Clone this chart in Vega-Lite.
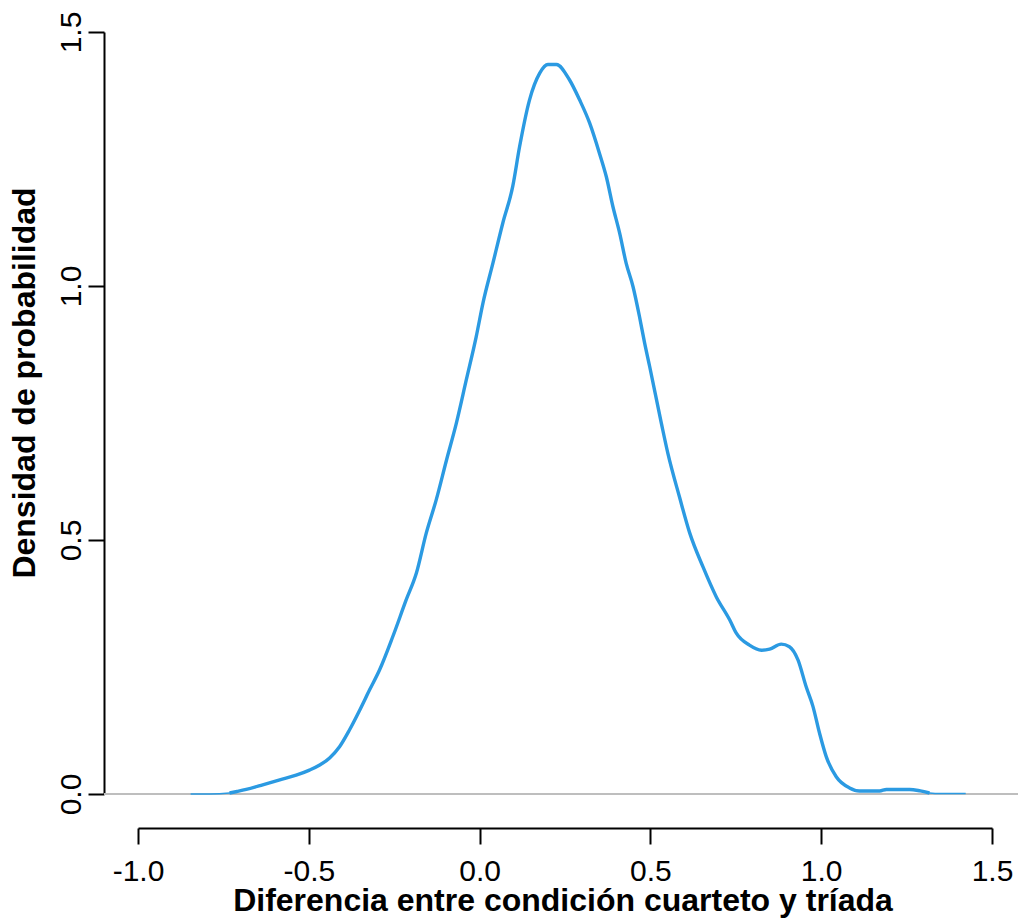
{
  "$schema": "https://vega.github.io/schema/vega-lite/v6.json",
  "width": 914,
  "height": 826,
  "autosize": {"type": "none"},
  "padding": {"left": 104, "top": 2, "right": 0, "bottom": 91},
  "background": "white",
  "config": {
    "view": {"stroke": null},
    "font": "Liberation Sans",
    "axis": {
      "grid": false,
      "domainColor": "black",
      "domainWidth": 2,
      "tickColor": "black",
      "tickWidth": 2,
      "tickSize": 16,
      "labelColor": "black",
      "labelFont": "Liberation Sans",
      "labelFontSize": 30,
      "labelFlush": false,
      "labelOverlap": false,
      "titleColor": "black",
      "titleFont": "Liberation Sans",
      "titleFontSize": 32,
      "titleFontWeight": "bold"
    }
  },
  "datasets": {
    "curva": [
      {"diferencia": -0.846, "densidad": 0.000},
      {"diferencia": -0.790, "densidad": 0.000},
      {"diferencia": -0.732, "densidad": 0.002},
      {"diferencia": -0.710, "densidad": 0.005},
      {"diferencia": -0.683, "densidad": 0.009},
      {"diferencia": -0.635, "densidad": 0.018},
      {"diferencia": -0.585, "densidad": 0.028},
      {"diferencia": -0.537, "densidad": 0.037},
      {"diferencia": -0.498, "densidad": 0.047},
      {"diferencia": -0.468, "densidad": 0.057},
      {"diferencia": -0.439, "densidad": 0.071},
      {"diferencia": -0.410, "densidad": 0.093},
      {"diferencia": -0.381, "densidad": 0.126},
      {"diferencia": -0.351, "densidad": 0.165},
      {"diferencia": -0.322, "densidad": 0.205},
      {"diferencia": -0.293, "densidad": 0.244},
      {"diferencia": -0.254, "densidad": 0.310},
      {"diferencia": -0.215, "densidad": 0.382},
      {"diferencia": -0.185, "densidad": 0.435},
      {"diferencia": -0.156, "densidad": 0.514},
      {"diferencia": -0.127, "densidad": 0.579},
      {"diferencia": -0.097, "densidad": 0.657},
      {"diferencia": -0.068, "densidad": 0.730},
      {"diferencia": -0.039, "densidad": 0.815},
      {"diferencia": -0.010, "densidad": 0.900},
      {"diferencia": 0.010, "densidad": 0.967},
      {"diferencia": 0.039, "densidad": 1.045},
      {"diferencia": 0.068, "densidad": 1.124},
      {"diferencia": 0.097, "densidad": 1.196},
      {"diferencia": 0.117, "densidad": 1.274},
      {"diferencia": 0.146, "densidad": 1.366},
      {"diferencia": 0.176, "densidad": 1.419},
      {"diferencia": 0.200, "densidad": 1.436},
      {"diferencia": 0.225, "densidad": 1.436},
      {"diferencia": 0.263, "densidad": 1.406},
      {"diferencia": 0.293, "densidad": 1.366},
      {"diferencia": 0.322, "densidad": 1.321},
      {"diferencia": 0.351, "densidad": 1.261},
      {"diferencia": 0.371, "densidad": 1.215},
      {"diferencia": 0.390, "densidad": 1.157},
      {"diferencia": 0.410, "densidad": 1.104},
      {"diferencia": 0.429, "densidad": 1.045},
      {"diferencia": 0.449, "densidad": 0.999},
      {"diferencia": 0.468, "densidad": 0.940},
      {"diferencia": 0.483, "densidad": 0.888},
      {"diferencia": 0.498, "densidad": 0.841},
      {"diferencia": 0.532, "densidad": 0.730},
      {"diferencia": 0.551, "densidad": 0.671},
      {"diferencia": 0.585, "densidad": 0.585},
      {"diferencia": 0.615, "densidad": 0.514},
      {"diferencia": 0.654, "densidad": 0.447},
      {"diferencia": 0.693, "densidad": 0.388},
      {"diferencia": 0.732, "densidad": 0.343},
      {"diferencia": 0.751, "densidad": 0.317},
      {"diferencia": 0.790, "densidad": 0.293},
      {"diferencia": 0.825, "densidad": 0.283},
      {"diferencia": 0.849, "densidad": 0.285},
      {"diferencia": 0.883, "densidad": 0.295},
      {"diferencia": 0.907, "densidad": 0.290},
      {"diferencia": 0.932, "densidad": 0.264},
      {"diferencia": 0.956, "densidad": 0.211},
      {"diferencia": 0.976, "densidad": 0.172},
      {"diferencia": 0.995, "densidad": 0.120},
      {"diferencia": 1.015, "densidad": 0.073},
      {"diferencia": 1.044, "densidad": 0.034},
      {"diferencia": 1.083, "densidad": 0.012},
      {"diferencia": 1.112, "densidad": 0.006},
      {"diferencia": 1.171, "densidad": 0.006},
      {"diferencia": 1.191, "densidad": 0.009},
      {"diferencia": 1.259, "densidad": 0.009},
      {"diferencia": 1.290, "densidad": 0.006},
      {"diferencia": 1.317, "densidad": 0.002},
      {"diferencia": 1.350, "densidad": 0.001},
      {"diferencia": 1.423, "densidad": 0.001}
    ],
    "base": [{"densidad": 0}]
  },
  "layer": [
    {
      "data": {"name": "base"},
      "mark": {"type": "rule", "color": "#BEBEBE", "strokeWidth": 2},
      "encoding": {
        "y": {"field": "densidad", "type": "quantitative"}
      }
    },
    {
      "data": {"name": "curva"},
      "mark": {"type": "line", "color": "#2B9AE2", "strokeWidth": 1.5, "interpolate": "monotone"},
      "encoding": {
        "x": {
          "field": "diferencia",
          "type": "quantitative",
          "scale": {"domain": [-1, 1.5], "range": [34, 888], "zero": false, "nice": false},
          "axis": {
            "title": "Diferencia entre condición cuarteto y tríada",
            "values": [-1, -0.5, 0, 0.5, 1, 1.5],
            "labelExpr": "(datum.value < 0 ? '-' : '') + format(abs(datum.value), '.1f')",
            "labelBaseline": "alphabetic",
            "labelAlign": "center",
            "labelPadding": 36,
            "titleX": 458.5,
            "titleY": 82,
            "titleAlign": "center",
            "titleBaseline": "alphabetic"
          }
        },
        "y": {
          "field": "densidad",
          "type": "quantitative",
          "scale": {"domain": [0, 1.5], "range": [792, 30], "zero": false, "nice": false},
          "axis": {
            "title": "Densidad de probabilidad",
            "values": [0, 0.5, 1, 1.5],
            "format": ".1f",
            "labelAngle": -90,
            "labelAlign": "center",
            "labelBaseline": "alphabetic",
            "labelPadding": 8,
            "titleAngle": -90,
            "titleX": -70,
            "titleY": 380.5,
            "titleAlign": "center",
            "titleBaseline": "alphabetic"
          }
        }
      }
    },
    {
      "data": {"name": "curva"},
      "transform": [
        {"filter": "datum.diferencia >= -0.732 && datum.diferencia <= 1.317"}
      ],
      "mark": {"type": "line", "color": "#2B9AE2", "strokeWidth": 3.4, "interpolate": "monotone"},
      "encoding": {
        "x": {"field": "diferencia", "type": "quantitative"},
        "y": {"field": "densidad", "type": "quantitative"}
      }
    }
  ]
}
